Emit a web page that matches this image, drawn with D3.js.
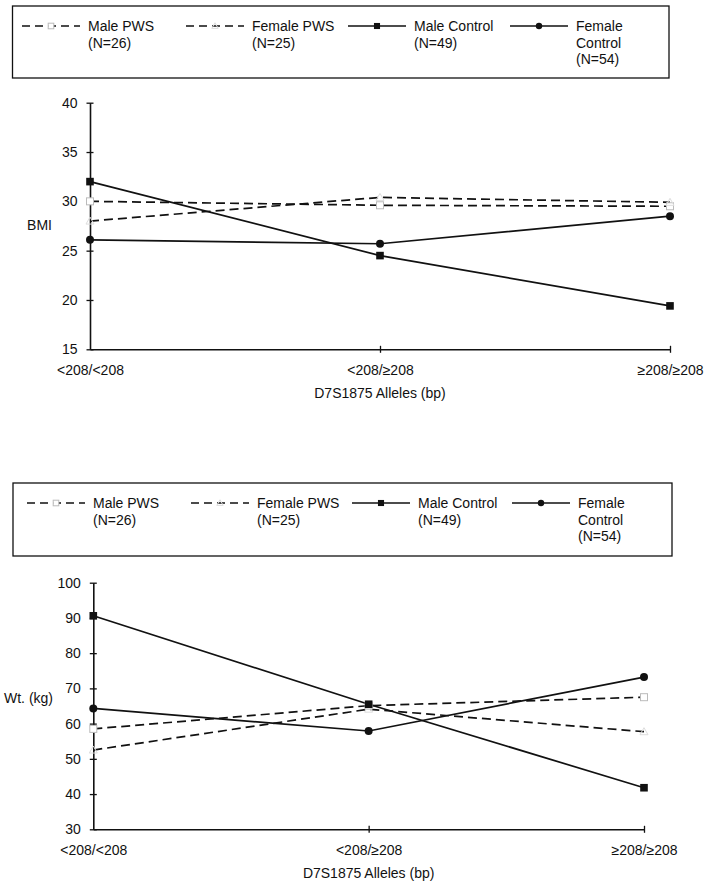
<!DOCTYPE html>
<html><head><meta charset="utf-8">
<script src="https://cdn.jsdelivr.net/npm/d3@7"></script>
<style>
body{margin:0;background:#fff;}
text{font-family:'Liberation Sans',Arial,Helvetica,sans-serif;font-size:14px;fill:#111;}
</style></head>
<body><svg id="c" width="708" height="886"></svg>
<script>
// ---- data ----
const categories = ["<208/<208", "<208/\u2265208", "\u2265208/\u2265208"];
const seriesNames = ["Male PWS", "Female PWS", "Male Control", "Female Control"];
const seriesN = ["(N=26)", "(N=25)", "(N=49)", "(N=54)"];
const bmiMalePWS = [30.0, 29.6, 29.5];
const bmiFemalePWS = [28.0, 30.4, 29.9];
const bmiMaleControl = [32.0, 24.5, 19.4];
const bmiFemaleControl = [26.1, 25.7, 28.5];
const wtMalePWS = [58.5, 65.1, 67.5];
const wtFemalePWS = [52.5, 64.1, 57.7];
const wtMaleControl = [90.6, 65.5, 41.8];
const wtFemaleControl = [64.3, 57.9, 73.2];
const bmiTicks = [15, 20, 25, 30, 35, 40];
const wtTicks = [30, 40, 50, 60, 70, 80, 90, 100];
const xTitle = "D7S1875 Alleles (bp)";

const svg = d3.select("#c");
const styles = [
  {dash:"9,5", marker:"osquare"},
  {dash:"9,5", marker:"otri"},
  {dash:null, marker:"square"},
  {dash:null, marker:"circle"}
];

function drawMarker(g, type, cx, cy, s){
  s = s || 1;
  if(type==="square") g.append("rect").attr("x",cx-3.8*s).attr("y",cy-3.8*s).attr("width",7.6*s).attr("height",7.6*s).attr("fill","#111");
  else if(type==="circle") g.append("circle").attr("cx",cx).attr("cy",cy).attr("r",4*s).attr("fill","#111");
  else if(type==="osquare") g.append("rect").attr("x",cx-3.5*s).attr("y",cy-3.5*s).attr("width",7*s).attr("height",7*s).attr("fill","#fff").attr("stroke","#bbb").attr("stroke-width",1);
  else if(type==="otri") g.append("path").attr("d",`M${cx},${cy-4*s}L${cx+4*s},${cy+3*s}L${cx-4*s},${cy+3*s}Z`).attr("fill","none").attr("stroke","#ddd").attr("stroke-width",1);
}

function legend(box, textX){
  const g = svg.append("g");
  g.append("rect").attr("x",box.x0).attr("y",box.y0).attr("width",box.x1-box.x0).attr("height",box.y1-box.y0)
    .attr("fill","none").attr("stroke","#111").attr("stroke-width",1.3);
  const rowY = box.y0+20;
  seriesNames.forEach((name,i)=>{
    const tx = textX[i];
    const lx1 = tx-66, lx2 = tx-8;
    const ln = g.append("line").attr("x1",lx1).attr("x2",lx2).attr("y1",rowY).attr("y2",rowY)
      .attr("stroke","#111").attr("stroke-width",1.6);
    if(styles[i].dash) ln.attr("stroke-dasharray","8,5");
    drawMarker(g, styles[i].marker, (lx1+lx2)/2, rowY, 0.8);
    let lines = i===3 ? ["Female","Control",seriesN[i]] : [name, seriesN[i]];
    lines.forEach((t,k)=>{
      g.append("text").attr("x",tx).attr("y",rowY+5+k*16.5).text(t);
    });
  });
}

function chart(opt){
  const x = d3.scalePoint().domain(categories).range([opt.x0, opt.x1]);
  const y = d3.scaleLinear().domain([opt.ticks[0], opt.ticks[opt.ticks.length-1]]).range([opt.yb, opt.yt]);
  const g = svg.append("g");
  const ya = g.append("g").attr("transform",`translate(${opt.x0},0)`)
    .call(d3.axisLeft(y).tickValues(opt.ticks).tickSizeInner(3.5).tickSizeOuter(0).tickPadding(9));
  ya.select(".domain").attr("stroke","#111").attr("stroke-width",1.6);
  ya.selectAll(".tick line").attr("x1",-3.5).attr("x2",3.5).attr("stroke","#111").attr("stroke-width",1.3);
  ya.selectAll(".tick text").attr("font-size",14).attr("font-family","'Liberation Sans',Arial,sans-serif").attr("fill","#111");
  const xa = g.append("g").attr("transform",`translate(0,${opt.yb})`)
    .call(d3.axisBottom(x).tickSizeInner(3.5).tickSizeOuter(0).tickPadding(12));
  xa.select(".domain").attr("stroke","#111").attr("stroke-width",1.6);
  xa.selectAll(".tick line").attr("y1",-3.5).attr("y2",3.5).attr("stroke","#111").attr("stroke-width",1.3);
  xa.selectAll(".tick line").filter((d,i)=>i===0).remove();
  xa.selectAll(".tick text").attr("font-size",14).attr("font-family","'Liberation Sans',Arial,sans-serif").attr("fill","#111");
  g.append("text").attr("x",opt.ylabX).attr("y",opt.ylabY).attr("text-anchor","end").text(opt.ylab);
  g.append("text").attr("x",(opt.x0+opt.x1)/2).attr("y",opt.yb+49).attr("text-anchor","middle").text(xTitle);
  const line = d3.line().x((d,i)=>x(categories[i])).y(d=>y(d));
  opt.series.forEach((s,i)=>{
    const p = g.append("path").attr("d",line(s)).attr("fill","none").attr("stroke","#111").attr("stroke-width",1.7);
    if(styles[i].dash) p.attr("stroke-dasharray","9,5");
  });
  opt.series.forEach((s,i)=>{
    s.forEach((v,k)=>drawMarker(g, styles[i].marker, x(categories[k]), y(v)));
  });
}

legend({x0:12.5,y0:6,x1:669,y1:78},[88,252,414,576]);
chart({x0:90,x1:670,yt:102.7,yb:349.3,ticks:bmiTicks,ylab:"BMI",ylabX:52,ylabY:230,
  series:[bmiMalePWS,bmiFemalePWS,bmiMaleControl,bmiFemaleControl]});
legend({x0:13,y0:483,x1:672,y1:556},[93,257,418,578]);
chart({x0:93.3,x1:644,yt:582.7,yb:829.3,ticks:wtTicks,ylab:"Wt. (kg)",ylabX:53,ylabY:703,
  series:[wtMalePWS,wtFemalePWS,wtMaleControl,wtFemaleControl]});
</script></body></html>
